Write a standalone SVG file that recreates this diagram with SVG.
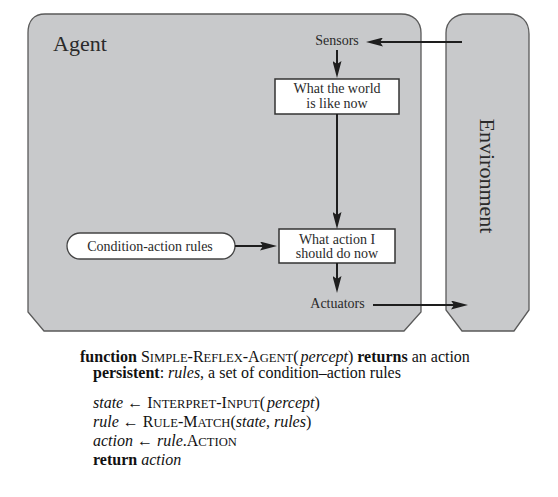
<svg xmlns="http://www.w3.org/2000/svg" width="558" height="497" viewBox="0 0 558 497">
<style>
.panel{fill:#c8c9cb;stroke:#5a5a5a;stroke-width:1.3}
.box{fill:#ffffff;stroke:#333333;stroke-width:1.5}
text{font-family:"Liberation Serif","DejaVu Serif",serif}
.lbl{font-size:14px;fill:#2a2a2a;text-anchor:middle}
.big{font-size:22px;fill:#2a2a2a}
.conn{stroke:#1e1e1e;stroke-width:2;fill:none;marker-end:url(#ah)}
.code{font-size:16px;fill:#111111}
.b{font-weight:bold}
.i{font-style:italic}
.sc{font-size:12.6px}
</style>
<defs>
<marker id="ah" markerUnits="userSpaceOnUse" markerWidth="17" markerHeight="9" refX="9" refY="4.5" orient="auto">
<path d="M0,0 L17,4.5 L0,9 L3,4.5 Z" fill="#1e1e1e"/>
</marker>
</defs>
<g id="agent">
<path class="panel" d="M28,33 C28,21 34,14 45,14 L401,14 C413,14 421,21 421,33 L421,312 L404,331 L44,331 L28,312 Z"/>
<text class="big" x="53" y="51" font-family="Liberation Serif, DejaVu Serif, serif">Agent</text>
</g>
<g id="environment">
<path class="panel" d="M446,33 C446,21 455,14 467,14 L509,14 C521,14 529,21 529,34 L529,310 L514,331 L462,331 L446,310 Z"/>
<text class="big" x="480" y="176" text-anchor="middle" transform="rotate(90 480 176)" font-family="Liberation Serif, DejaVu Serif, serif">Environment</text>
</g>
<g id="sensors">
<text class="lbl" x="337" y="45" font-family="Liberation Serif, DejaVu Serif, serif">Sensors</text>
</g>
<g id="world-state">
<rect class="box" x="275" y="79" width="124" height="35"/>
<text class="lbl" x="337" y="93" font-family="Liberation Serif, DejaVu Serif, serif">What the world</text>
<text class="lbl" x="337" y="107.5" font-family="Liberation Serif, DejaVu Serif, serif">is like now</text>
</g>
<g id="rules">
<rect class="box" x="67" y="233" width="168" height="26" rx="13" ry="13" style="stroke:#444;stroke-width:1.3"/>
<text class="lbl" x="150" y="250.5" font-family="Liberation Serif, DejaVu Serif, serif">Condition-action rules</text>
</g>
<g id="action-choice">
<rect class="box" x="279" y="229" width="116" height="34"/>
<text class="lbl" x="337" y="244" font-size="13.5" font-family="Liberation Serif, DejaVu Serif, serif">What action I</text>
<text class="lbl" x="337" y="257.5" font-size="13.5" font-family="Liberation Serif, DejaVu Serif, serif">should do now</text>
</g>
<g id="actuators">
<text class="lbl" x="337.5" y="307.5" font-family="Liberation Serif, DejaVu Serif, serif">Actuators</text>
</g>
<g id="connectors">
<line class="conn" x1="462" y1="42" x2="374" y2="42"/>
<line class="conn" x1="337" y1="50" x2="337" y2="70"/>
<line class="conn" x1="337" y1="114" x2="337" y2="221"/>
<line class="conn" x1="235" y1="246" x2="269" y2="246"/>
<line class="conn" x1="337" y1="263" x2="337" y2="285"/>
<line class="conn" x1="373" y1="305" x2="460" y2="305"/>
</g>
<g id="pseudocode" class="code" font-family="Liberation Serif, DejaVu Serif, serif">
<text x="80" y="362"><tspan class="b">function</tspan> S<tspan class="sc">IMPLE</tspan>-R<tspan class="sc">EFLEX</tspan>-A<tspan class="sc">GENT</tspan>(<tspan class="i" dx="2">percept</tspan>) <tspan class="b">returns</tspan> an action</text>
<text x="93" y="378"><tspan class="b">persistent</tspan>: <tspan class="i">rules</tspan>, a set of condition–action rules</text>
<text x="93" y="408"><tspan class="i">state</tspan> ← I<tspan class="sc">NTERPRET</tspan>-I<tspan class="sc">NPUT</tspan>(<tspan class="i" dx="2">percept</tspan>)</text>
<text x="93" y="427"><tspan class="i">rule</tspan> ← R<tspan class="sc">ULE</tspan>-M<tspan class="sc">ATCH</tspan>(<tspan class="i">state</tspan>, <tspan class="i">rules</tspan>)</text>
<text x="93" y="446"><tspan class="i">action</tspan> ← <tspan class="i">rule</tspan>.A<tspan class="sc">CTION</tspan></text>
<text x="93" y="465"><tspan class="b">return</tspan> <tspan class="i">action</tspan></text>
</g>
</svg>
